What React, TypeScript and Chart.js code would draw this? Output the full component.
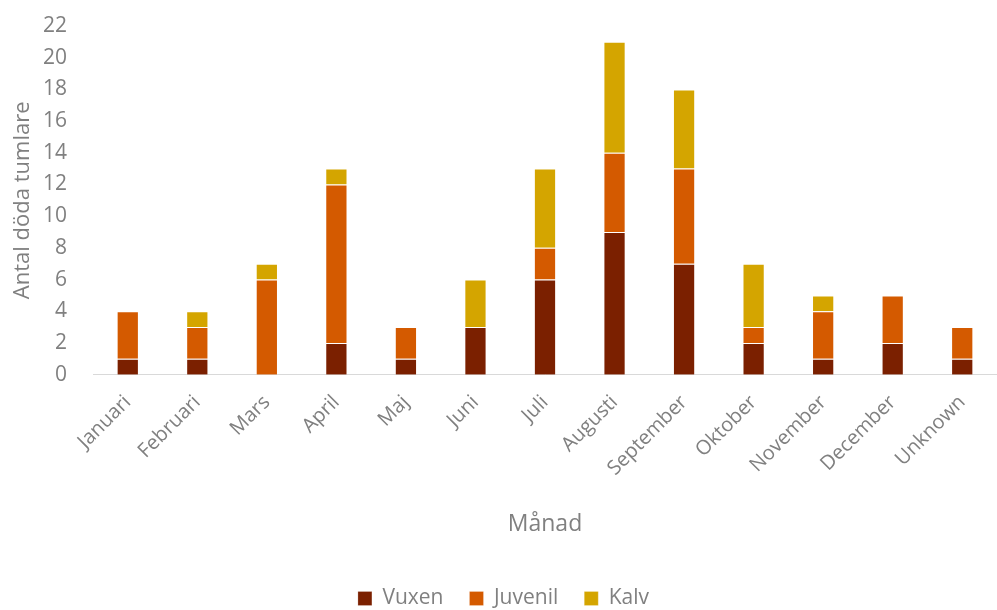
import React, { useEffect, useRef } from "react";
import { Chart, registerables } from "chart.js";

Chart.register(...registerables);

const months = ["Januari", "Februari", "Mars", "April", "Maj", "Juni", "Juli", "Augusti", "September", "Oktober", "November", "December", "Unknown"];
const vuxen = [1, 1, 0, 2, 1, 3, 6, 9, 7, 2, 1, 2, 1];
const juvenil = [3, 2, 6, 10, 2, 0, 2, 5, 6, 1, 3, 3, 2];
const kalv = [0, 1, 1, 1, 0, 3, 5, 7, 5, 4, 1, 0, 0];
const yTicks = [0, 2, 4, 6, 8, 10, 12, 14, 16, 18, 20, 22];

const FONT = "'Open Sans', 'Noto Sans', sans-serif";
const GREY = "#808080";

export default function App() {
  const ref = useRef<HTMLCanvasElement>(null);
  useEffect(() => {
    document.body.style.margin = "0";
    const ctx = ref.current!;
    const mk = (label: string, data: number[], color: string) => ({
      label,
      data,
      backgroundColor: color,
      borderColor: "rgba(255,255,255,0.22)",
      borderWidth: 1,
      barPercentage: 0.32,
      categoryPercentage: 1,
    });
    const chart = new Chart(ctx, {
      type: "bar",
      data: {
        labels: months,
        datasets: [
          mk("Vuxen", vuxen, "#7B2000"),
          mk("Juvenil", juvenil, "#D45A00"),
          mk("Kalv", kalv, "#D4A500"),
        ],
      },
      options: {
        animation: false,
        responsive: false,
        layout: { padding: { left: 10, right: 0, top: 26, bottom: -9 } },
        plugins: {
          tooltip: { enabled: false },
          legend: {
            position: "bottom",
            labels: {
              color: GREY,
              font: { family: FONT, size: 21 },
              boxWidth: 14,
              boxHeight: 14,
              padding: 26,
            },
          },
        },
        scales: {
          x: {
            stacked: true,
            grid: { display: false, drawTicks: false },
            border: { color: "#d9d9d9", width: 1 },
            ticks: {
              color: GREY,
              font: { family: FONT, size: 20 },
              maxRotation: 45,
              minRotation: 45,
              padding: 16,
            },
            title: {
              display: true,
              text: "Månad",
              color: GREY,
              font: { family: FONT, size: 23 },
              padding: { top: 14, bottom: 24 },
            },
          },
          y: {
            stacked: true,
            min: 0,
            max: 22,
            afterBuildTicks: (axis: any) => {
              axis.ticks = yTicks.map((v) => ({ value: v }));
            },
            afterFit: (axis: any) => {
              axis.width = 83;
              axis.paddingTop = 0;
            },
            grid: { display: false, drawTicks: false },
            border: { display: false },
            ticks: {
              color: GREY,
              font: { family: FONT, size: 21 },
              padding: 26,
            },
            title: {
              display: true,
              text: "Antal döda tumlare",
              color: GREY,
              font: { family: FONT, size: 22 },
              padding: { top: 0, bottom: 2 },
            },
          },
        },
      },
    });
    return () => chart.destroy();
  }, []);
  return (
    <div style={{ position: "absolute", left: 0, top: 0, width: 997, height: 610 }}>
      <canvas ref={ref} width={997} height={610} style={{ width: 997, height: 610 }} />
    </div>
  );
}
